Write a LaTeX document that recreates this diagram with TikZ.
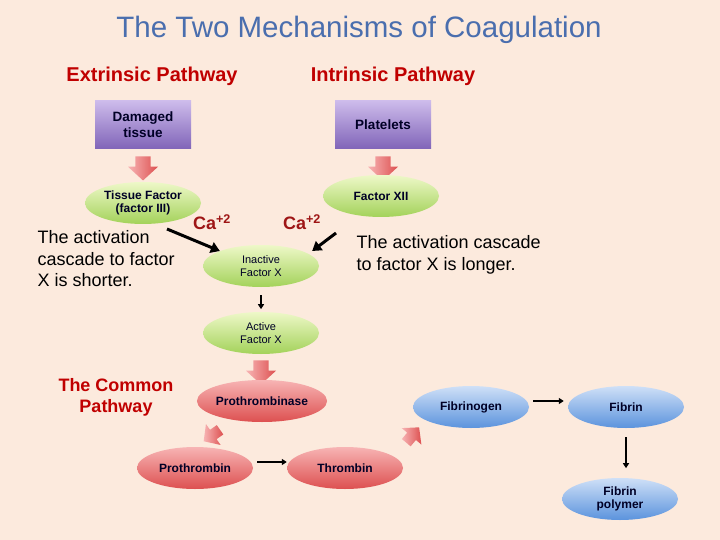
\documentclass[tikz,border=0pt]{standalone}
\usepackage{fontspec}
\setmainfont{Liberation Sans}
\usetikzlibrary{positioning, arrows.meta, shapes.arrows, shapes.geometric}

\definecolor{fondo}{HTML}{FCEADD}
\definecolor{titulo}{HTML}{4A6EAE}
\definecolor{rojo}{HTML}{C00000}
\definecolor{granate}{HTML}{9E1515}
\definecolor{lila1}{HTML}{CDBBEB}
\definecolor{lila2}{HTML}{8064B8}
\definecolor{verde1}{HTML}{EEF8C8}
\definecolor{verde2}{HTML}{A3D25A}
\definecolor{rosa1}{HTML}{F7B4B4}
\definecolor{rosa2}{HTML}{DD5050}
\definecolor{azul1}{HTML}{CFE0F7}
\definecolor{azul2}{HTML}{5B93DD}

\begin{document}
\begin{tikzpicture}[x=1pt, y=-1pt,
  caja/.style={rectangle, minimum width=96pt, minimum height=48pt, align=center,
               top color=lila1, bottom color=lila2,
               font=\bfseries\fontsize{13.5}{16}\selectfont, text=black!85!blue},
  elip/.style={ellipse, minimum width=116pt, minimum height=42pt, inner sep=0pt,
               align=center, font=\bfseries\fontsize{12}{13.5}\selectfont, text=black!85!blue},
  verde/.style={elip, top color=verde1, bottom color=verde2},
  roja/.style={elip, top color=rosa1, bottom color=rosa2},
  azul/.style={elip, top color=azul1, bottom color=azul2},
  bloque/.style={single arrow, draw=none, minimum width=30pt, minimum height=24pt,
                 inner xsep=0pt, inner ysep=7pt, text height=0pt, text depth=0pt,
                 single arrow tip angle=95,
                 left color=rosa1, right color=rosa2},
  bloquito/.style={bloque, minimum width=22pt, minimum height=20pt, inner ysep=5.5pt},
  fl/.style={-{Triangle[length=5pt, width=6pt]}, line width=1.8pt, black},
  flg/.style={-{Triangle[length=9pt, width=11pt]}, line width=3pt, black},
  ca/.style={font=\bfseries\fontsize{18}{21}\selectfont, text=granate},
  nota/.style={align=left, font=\fontsize{18}{21.5}\selectfont}]
\fill[fondo] (0,0) rectangle (720,540);
% titulos
\node[font=\fontsize{29.5}{34}\selectfont, text=titulo] (tit) at (359,30) {The Two Mechanisms of Coagulation};
\node[font=\bfseries\fontsize{20}{24}\selectfont, text=rojo] (ext) at (152,76) {Extrinsic Pathway};
\node[font=\bfseries\fontsize{20}{24}\selectfont, text=rojo] (int) at (393,76) {Intrinsic Pathway};
% via extrinseca e intrinseca
\node[caja] (dam) at (143,125) {Damaged\\tissue};
\node[caja] (pla) at (383,125) {Platelets};
\node[bloque, rotate=-90] (b1) at (143,165) {};
\node[bloque, rotate=-90] (b2) at (383,165) {};
\node[verde] (tf) at (143,203) {Tissue Factor\\(factor III)};
\node[verde] (f12) at (381,196) {Factor XII};
\node[ca] (ca1) at (212,222) {Ca\textsuperscript{+2}};
\node[ca] (ca2) at (302,222) {Ca\textsuperscript{+2}};
\node[verde, font=\fontsize{11}{13}\selectfont] (inx) at (261,266) {Inactive\\Factor X};
\node[verde, font=\fontsize{11}{13}\selectfont] (acx) at (261,333) {Active\\Factor X};
\coordinate (p1) at (167,229);
\coordinate (p2) at (336,233);
\draw[flg] (p1) -- (inx.north west);
\draw[flg] (p2) -- ([xshift=10pt]inx.north east);
\draw[fl] (inx.south) ++(0,8) -- ++(0,14);
\node[nota, anchor=west] (corta) at (34,259) {The activation\\cascade to factor\\X is shorter.};
\node[nota, anchor=west] (larga) at (353,255) {The activation cascade\\to factor X is longer.};
% via comun
\node[bloque, rotate=-90] (b3) at (261,369) {};
\node[roja] (ptb) at (262,401) {Prothrombinase};
\node[bloquito, rotate=-145] (b4) at (214,434) {};
\node[roja] (pro) at (195,468) {Prothrombin};
\node[roja] (thr) at (345,468) {Thrombin};
\node[bloquito, rotate=50] (b5) at (411,437) {};
\node[azul] (fgn) at (471,407) {Fibrinogen};
\node[azul] (fib) at (626,407) {Fibrin};
\node[azul] (pol) at (620,499) {Fibrin\\polymer};
\node[font=\bfseries\fontsize{18}{21}\selectfont, text=rojo, align=center] (com) at (116,397) {The Common\\Pathway};
\draw[fl, shorten <=4pt] ([yshift=6pt]pro.east) -- ([yshift=6pt]thr.west);
\draw[fl, shorten <=4pt, shorten >=4pt] ([yshift=6pt]fgn.east) -- ([yshift=6pt]fib.west);
\draw[fl] (fib.south) ++(0,9) -- ++(0,31);
\end{tikzpicture}
\end{document}
